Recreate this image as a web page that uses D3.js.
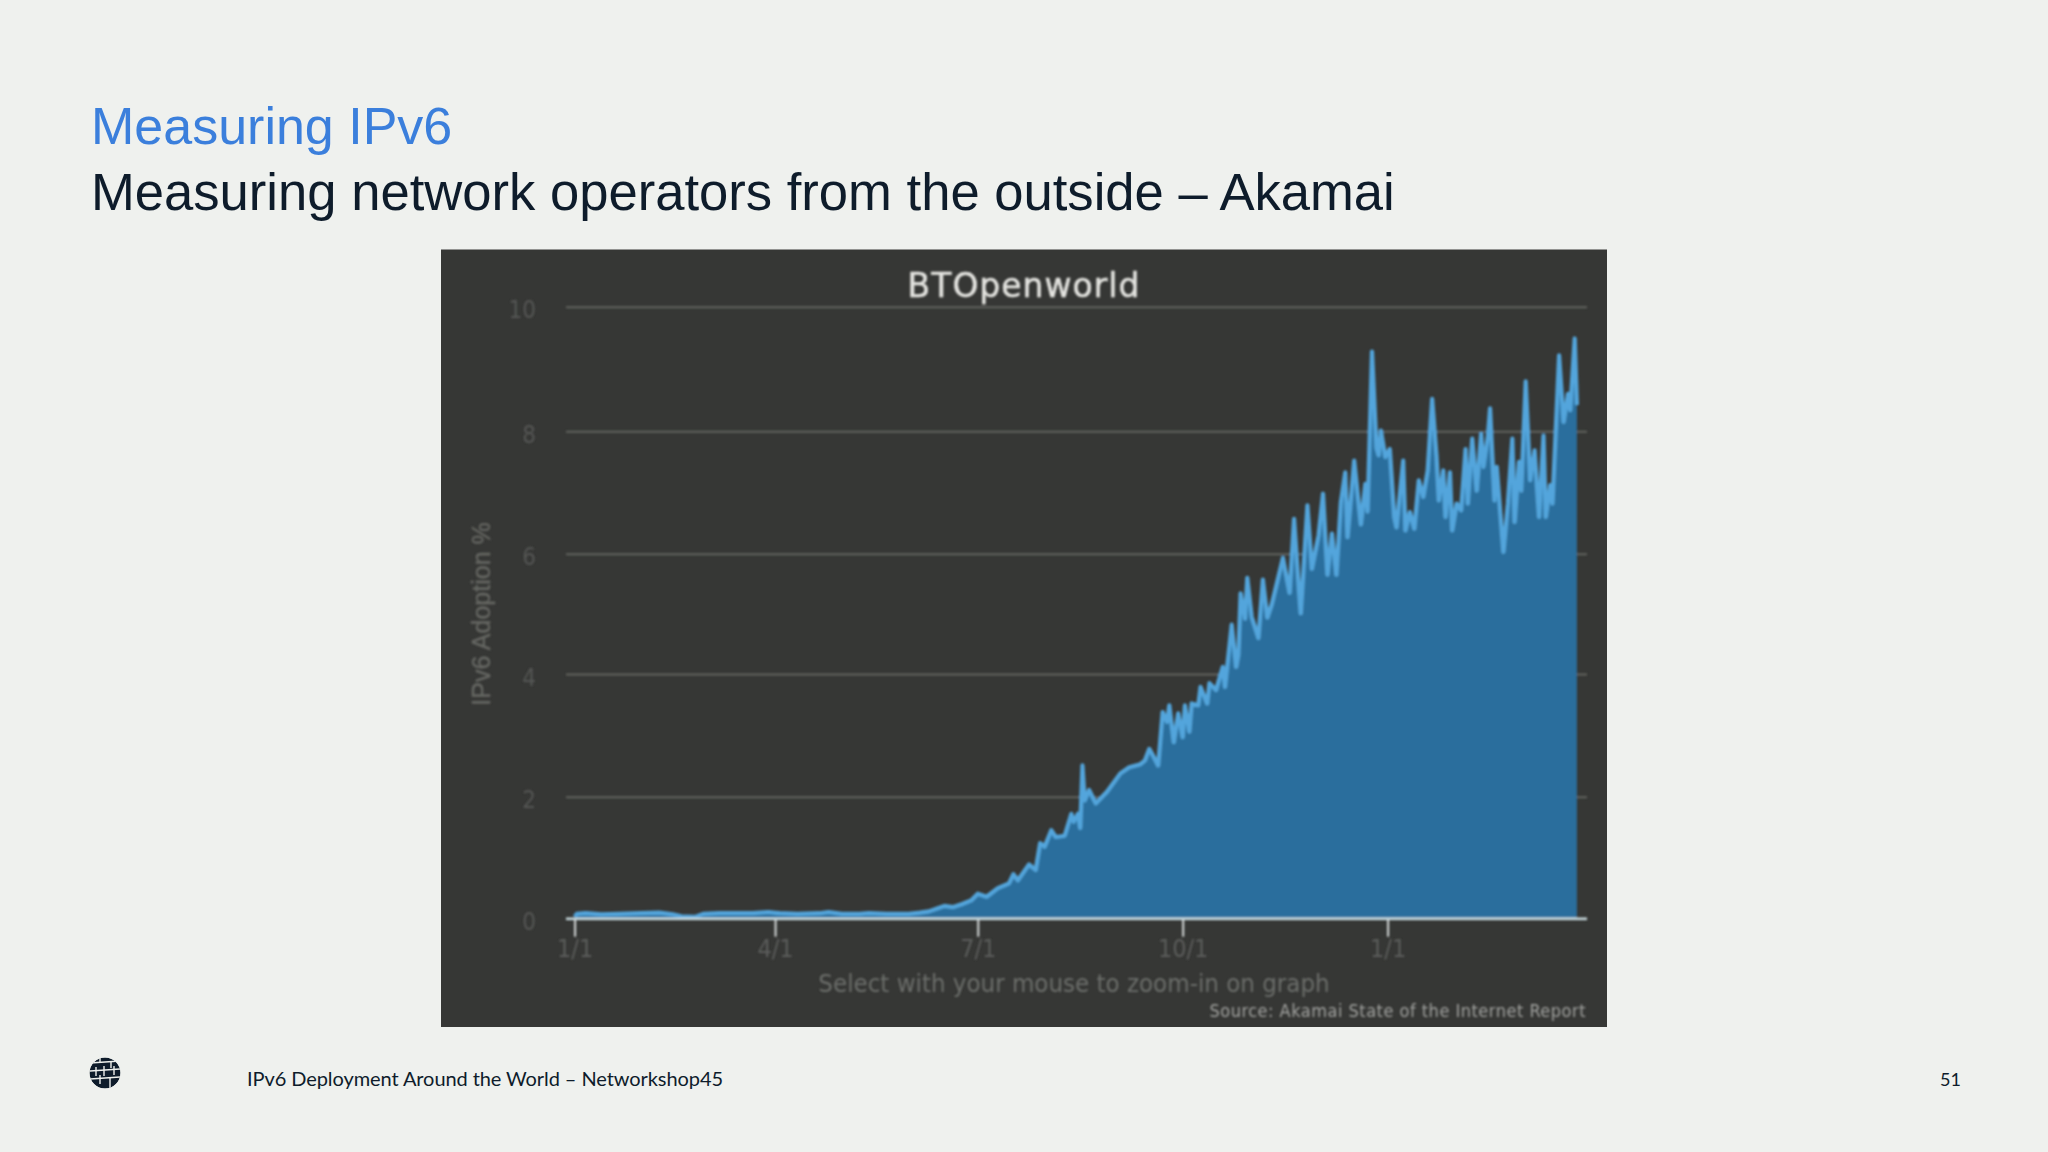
<!DOCTYPE html>
<html>
<head>
<meta charset="utf-8">
<script src="https://d3js.org/d3.v7.min.js"></script>
<style>
html, body { margin: 0; padding: 0; background: #eff1ee; overflow: hidden; }
svg { display: block; }
</style>
</head>
<body>
<div id="slide"></div>
<script>
// days since the first 1/1 on the axis, adoption %
var days = [0,1,5,12,20,30,38,44,48,54,58,65,72,80,87,92,100,110,114,120,128,132,140,150,
    155,159,163,166,170,174,178,181,185,190,195,197,199,204,207,209,211,214,216,220,223,224,226,227,228,229,231,234,239,245,249,254,
    256,258,260,262,264,266,267,269,271,273,274,276,277,280,281,284,285,288,291,292,295,297,298,
    299,301,302,304,307,309,311,313,318,321,323,325,326,329,331,334,336,338,340,342,344,346,347,350,353,355,356,
    358,360,361,362,364,366,368,369,372,373,375,377,379,381,383,385,387,388,390,391,393,394,396,398,400,401,403,405,407,408,410,411,
    413,414,417,419,421,422,424,425,427,429,431,433,435,436,438,439,442,444,446,447,449,450];
var adoption = [0.03,0.08,0.09,0.07,0.08,0.09,0.10,0.07,0.04,0.03,0.08,0.09,0.09,0.09,0.11,0.09,0.08,0.09,0.11,0.08,0.08,0.09,0.08,0.08,
    0.10,0.12,0.17,0.21,0.19,0.24,0.30,0.41,0.36,0.50,0.58,0.73,0.63,0.89,0.80,1.24,1.18,1.45,1.34,1.36,1.72,1.59,1.72,1.49,2.51,1.94,2.11,1.89,2.08,2.38,2.48,2.53,
    2.59,2.78,2.65,2.51,3.38,3.22,3.49,2.89,3.36,2.97,3.49,3.06,3.52,3.49,3.79,3.52,3.85,3.74,4.12,3.79,4.82,4.12,4.32,
    5.34,4.92,5.60,4.95,4.60,5.57,4.94,5.16,5.93,5.35,6.57,5.51,5.01,6.79,5.75,6.30,6.98,5.65,6.33,5.65,6.84,7.33,6.27,7.52,6.48,7.14,6.69,
    9.28,7.73,7.61,8.01,7.58,7.71,6.60,6.43,7.52,6.38,6.68,6.41,7.20,6.93,7.36,8.52,7.58,6.87,7.36,6.60,7.33,6.38,6.82,6.71,7.71,6.82,7.88,7.03,7.96,7.42,7.91,8.37,
    6.87,7.42,6.03,6.82,7.88,6.52,7.50,7.03,8.80,7.20,7.69,6.60,7.93,6.60,7.12,6.82,9.22,8.15,8.60,8.34,9.49,8.42];
var yTicks = [0,2,4,6,8,10];
var yTickPixels = [918.7,796.7,674,553.7,431.3,306.7]; // the screenshot's gridlines are not quite evenly spaced
var xTickDays = [0,90,181,273,365];
var xTickLabels = ["1/1","4/1","7/1","10/1","1/1"];

var series = d3.zip(days, adoption);

var svg = d3.select("#slide").append("svg").attr("width",2048).attr("height",1152);

svg.append("rect").attr("width",2048).attr("height",1152).attr("fill","#eff1ee");

// slide heading
svg.append("text").attr("x",91).attr("y",144)
    .attr("font-family","Liberation Sans").attr("font-size",52)
    .attr("fill","#3b7fdc").text("Measuring IPv6");
svg.append("text").attr("x",91).attr("y",210)
    .attr("font-family","Liberation Sans").attr("font-size",52.6)
    .attr("fill","#0e1c2b").text("Measuring network operators from the outside \u2013 Akamai");

// the chart is a blurry screenshot on the slide
var defs = svg.append("defs");
defs.append("filter").attr("id","soft").append("feGaussianBlur").attr("stdDeviation",0.9);
defs.append("clipPath").attr("id","globe").append("circle").attr("cx",105).attr("cy",1073).attr("r",15.5);

svg.append("rect").attr("x",441).attr("y",249.5).attr("width",1166).attr("height",777.5).attr("fill","#363735");

var g = svg.append("g").attr("filter","url(#soft)");

var x = d3.scaleLinear().domain([0,365]).range([574.6,1387.6]);
var y = d3.scaleLinear().domain(yTicks).range(yTickPixels);

// gridlines and y labels
var yAxis = g.append("g")
    .attr("transform","translate(566,0)")
    .call(d3.axisLeft(y).tickValues(yTicks).tickSize(-1021).tickPadding(30).tickFormat(d3.format("d")));
yAxis.select(".domain").remove();
yAxis.selectAll("line").attr("stroke","#62635f").attr("stroke-width",2);
yAxis.selectAll("text")
    .attr("font-family","DejaVu Sans Condensed").attr("font-size",24)
    .attr("fill","#555654").attr("dy","0.46em");

var area = d3.area().x(function (d) { return x(d[0]); }).y0(y(0)).y1(function (d) { return y(d[1]); });
var line = d3.line().x(function (d) { return x(d[0]); }).y(function (d) { return y(d[1]); });

g.append("path").datum(series).attr("d",area).attr("fill","#2c6e9d");
g.append("path").datum(series).attr("d",line)
    .attr("fill","none").attr("stroke","#52a5dc").attr("stroke-width",4.2)
    .attr("stroke-linejoin","round");

// x axis
var xAxis = g.append("g")
    .attr("transform","translate(0,"+y(0)+")")
    .call(d3.axisBottom(x).tickValues(xTickDays).tickSize(18).tickPadding(3)
        .tickFormat(function (d, i) { return xTickLabels[i]; }));
xAxis.select(".domain").remove();
xAxis.append("line").attr("x1",566).attr("x2",1587).attr("stroke","#c9dbe0").attr("stroke-width",2.6);
xAxis.selectAll(".tick line").attr("stroke","#d8dcdc").attr("stroke-width",2);
xAxis.selectAll("text")
    .attr("font-family","DejaVu Sans Condensed").attr("font-size",25)
    .attr("fill","#5c5d5b");

// chart texts
g.append("text").attr("x",1024).attr("y",297).attr("text-anchor","middle")
    .attr("font-family","DejaVu Sans").attr("font-size",33).attr("letter-spacing",1)
    .attr("fill","#e4e4e0").attr("stroke","#e4e4e0").attr("stroke-width",0.5).text("BTOpenworld");
g.append("text").attr("transform","translate(490,614) rotate(-90)").attr("text-anchor","middle")
    .attr("font-family","Liberation Sans").attr("font-size",25)
    .attr("fill","#666763").attr("stroke","#666763").attr("stroke-width",0.4).text("IPv6 Adoption %");
g.append("text").attr("x",1074).attr("y",992).attr("text-anchor","middle")
    .attr("font-family","DejaVu Sans Condensed").attr("font-size",25.6)
    .attr("fill","#6c6e6b").text("Select with your mouse to zoom-in on graph");
g.append("text").attr("x",1586).attr("y",1017).attr("text-anchor","end")
    .attr("font-family","DejaVu Sans Condensed").attr("font-size",18).attr("letter-spacing",0.5)
    .attr("fill","#a2a3a0").text("Source: Akamai State of the Internet Report");

// footer
var logo = svg.append("g").attr("clip-path","url(#globe)");
logo.append("circle").attr("cx",105).attr("cy",1073).attr("r",15.5).attr("fill","#0e1c2b");
var bricks = [[90,1063,30],[90,1071,30],[90,1079,30]];
logo.selectAll("line.h").data(bricks).enter().append("line")
    .attr("x1",function (d) { return d[0]; }).attr("x2",function (d) { return d[0]+d[2]; })
    .attr("y1",function (d) { return d[1]; }).attr("y2",function (d) { return d[1]-2; })
    .attr("stroke","#eff1ee").attr("stroke-width",1.4);
var joints = [[100,1058,1063],[111,1061,1068],[96,1067,1076],[104,1066,1076],[114,1066,1075],[100,1075,1084],[110,1078,1088]];
logo.selectAll("line.v").data(joints).enter().append("line")
    .attr("x1",function (d) { return d[0]; }).attr("x2",function (d) { return d[0]; })
    .attr("y1",function (d) { return d[1]; }).attr("y2",function (d) { return d[2]; })
    .attr("stroke","#eff1ee").attr("stroke-width",1.4);

svg.append("text").attr("x",247).attr("y",1086).attr("letter-spacing",-0.08)
    .attr("font-family","Lato").attr("font-size",20)
    .attr("fill","#0e1c2b").text("IPv6 Deployment Around the World \u2013 Networkshop45");
svg.append("text").attr("x",1940).attr("y",1086)
    .attr("font-family","Lato").attr("font-size",18)
    .attr("fill","#0e1c2b").text("51");
</script>
</body>
</html>
